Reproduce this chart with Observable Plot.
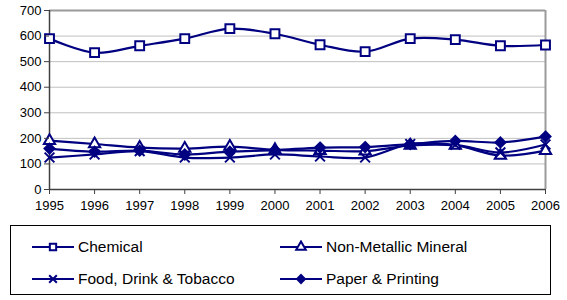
<!DOCTYPE html>
<html>
<head>
<meta charset="utf-8">
<script src="https://cdn.jsdelivr.net/npm/d3@7"></script>
<script src="https://cdn.jsdelivr.net/npm/@observablehq/plot@0.6"></script>
<style>
  body { margin: 0; background: #fff; font-family: "Liberation Sans", Arial, sans-serif; }
  #legend { position: absolute; left: 10px; top: 225px; width: 541px; height: 70px; border: 1px solid #000; box-sizing: border-box; }
  .item { position: absolute; display: flex; align-items: center; font-size: 15.5px; color: #000; }
  .item svg { margin-right: 3px; }
</style>
</head>
<body>
<div id="chart"></div>
<div id="legend"></div>
<script>
const years = [1995,1996,1997,1998,1999,2000,2001,2002,2003,2004,2005,2006];
const seriesNames = ["Chemical","Non-Metallic Mineral","Food, Drink & Tobacco","Paper & Printing"];
const chemical = [590,535,562,590,629,609,566,539,590,586,562,565];
const nonMetallic = [191,178,164,160,168,155,152,150,172,172,133,152];
const foodDrink = [125,137,150,125,125,137,129,125,178,175,145,176];
const paperPrinting = [160,148,152,137,148,154,164,166,178,190,184,207];
const yTicks = [0,100,200,300,400,500,600,700];

const seriesValues = [chemical, nonMetallic, foodDrink, paperPrinting];
const symbols = ["square","triangle","times","diamond2"];
const fills = ["white","white","none","#000080"];
const radii = [5, 4.2, 4.5, 4.5];
const navy = "#000080";

const data = [];
seriesNames.forEach((name, i) => {
  years.forEach((yr, j) => data.push({series: name, idx: i, year: yr, value: seriesValues[i][j]}));
});

const marks = [
  Plot.ruleY(yTicks.filter(d => d > 0), {stroke: "#c0c0c0", strokeWidth: 1}),
  Plot.ruleY([700], {stroke: "#9a9a9a", strokeWidth: 2}),
  Plot.ruleX([2006], {stroke: "#9a9a9a", strokeWidth: 2}),
  Plot.ruleX([1995], {stroke: "#404040", strokeWidth: 1.5}),
  Plot.ruleY([0], {stroke: "#404040", strokeWidth: 1.5}),
];
seriesNames.forEach((name, i) => {
  const d = data.filter(r => r.idx === i);
  marks.push(Plot.line(d, {x: "year", y: "value", stroke: navy, strokeWidth: 2.2, curve: "catmull-rom"}));
});
seriesNames.forEach((name, i) => {
  const d = data.filter(r => r.idx === i);
  marks.push(Plot.dot(d, {x: "year", y: "value", symbol: () => symbols[i], r: radii[i],
    stroke: navy, strokeWidth: 2, fill: fills[i]}));
});

const chart = Plot.plot({
  width: 567,
  height: 220,
  marginLeft: 49,
  marginRight: 22,
  marginTop: 10,
  marginBottom: 31,
  style: {fontFamily: "Liberation Sans, Arial, sans-serif", fontSize: "13px", color: "#000", background: "#fff"},
  x: {domain: [1995, 2006], ticks: years, tickFormat: d => String(d), label: null, tickSize: 5, tickPadding: 6},
  y: {domain: [0, 700], ticks: yTicks, label: null, tickSize: 5, tickPadding: 3},
  symbol: {type: "identity"},
  marks: [
    ...marks,
    Plot.axisX({ticks: years, tickFormat: d => String(d), tickSize: 5, tickPadding: 6, label: null, stroke: "#404040", fontSize: 13}),
    Plot.axisY({ticks: yTicks, tickSize: 5, tickPadding: 3, label: null, stroke: "#404040", fontSize: 13})
  ]
});
document.getElementById("chart").appendChild(chart);

// legend
const legend = document.getElementById("legend");
const positions = [[20, 12], [268, 12], [20, 44], [268, 44]];
seriesNames.forEach((name, i) => {
  const div = document.createElement("div");
  div.className = "item";
  div.style.left = positions[i][0] + "px";
  div.style.top = positions[i][1] + "px";
  const s = d3.create("svg").attr("width", 44).attr("height", 14);
  s.append("line").attr("x1", 1).attr("x2", 43).attr("y1", 7).attr("y2", 7).attr("stroke", navy).attr("stroke-width", 2);
  const symMap = {square: d3.symbolSquare, triangle: d3.symbolTriangle, times: d3.symbolTimes, diamond2: d3.symbolDiamond2};
  s.append("path").attr("d", d3.symbol(symMap[symbols[i]], 40)())
    .attr("transform", "translate(22,7)")
    .attr("fill", fills[i])
    .attr("stroke", navy).attr("stroke-width", 2);
  div.appendChild(s.node());
  const t = document.createElement("span");
  t.textContent = name;
  div.appendChild(t);
  legend.appendChild(div);
});
</script>
</body>
</html>
